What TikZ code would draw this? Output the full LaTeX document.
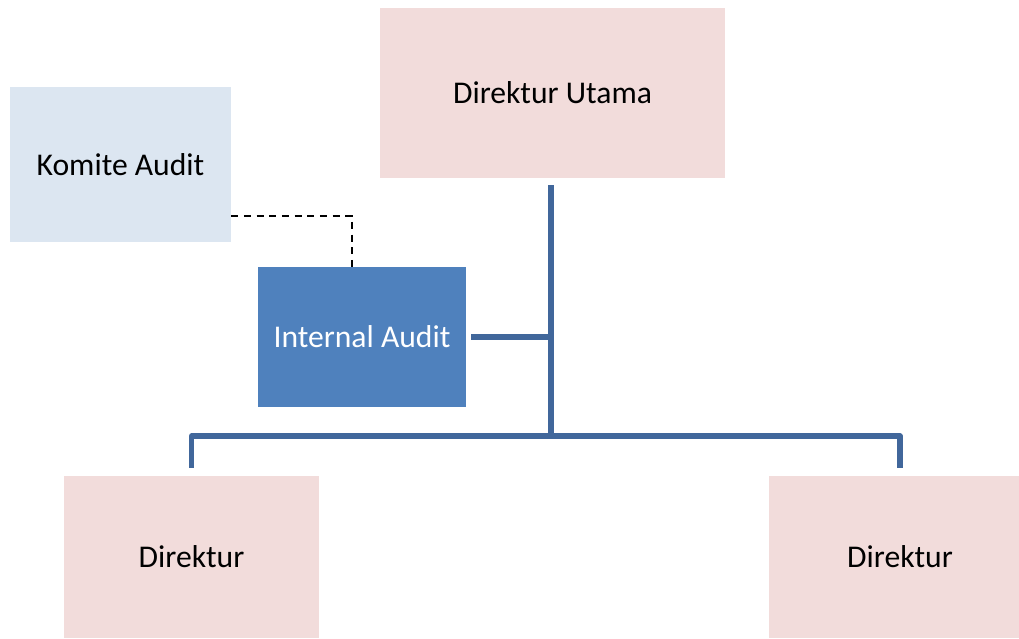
\documentclass[tikz,border=0pt]{standalone}
\usepackage{fontspec}
\setmainfont{Carlito}
\definecolor{pinkbox}{HTML}{F2DCDB}
\definecolor{komite}{HTML}{DCE6F1}
\definecolor{internal}{HTML}{4F81BD}
\definecolor{orgblue}{HTML}{41679B}

\begin{document}
\begin{tikzpicture}[x=0.025cm, y=-0.025cm,
    box/.style={inner sep=0pt, font=\fontsize{22.5}{27}\selectfont},
    orgline/.style={draw=orgblue, line width=3.6pt, line join=round},
    dashline/.style={draw=black, line width=1.4pt, dash pattern=on 5pt off 4pt}]
    \useasboundingbox (0,0) rectangle (1019,638);
    \node[box, fill=pinkbox, minimum width=8.625cm, minimum height=4.25cm] (du) at (552.5,93) {Direktur Utama};
    \node[box, fill=komite, minimum width=5.525cm, minimum height=3.875cm] (ka) at (120.5,164.5) {Komite Audit};
    \node[box, fill=internal, text=white, minimum width=5.2cm, minimum height=3.5cm] (ia) at (362,337) {Internal Audit};
    \node[box, fill=pinkbox, minimum width=6.375cm, minimum height=4.05cm] (dl) at (191.5,557) {Direktur};
    \node[box, fill=pinkbox, minimum width=6.55cm, minimum height=4.05cm] (dr) at (900,557) {Direktur};
    \coordinate (top) at (551,185);
    \coordinate (mid) at (551,337);
    \coordinate (bot) at (551,436);
    % lines
    \draw[orgline] (top) -- (bot);
    \draw[orgline] ([xshift=0.125cm]ia.east) -- (mid);
    \draw[orgline] ([yshift=0.2cm]dl.north) |- (bot) -| ([yshift=0.2cm]dr.north);
    \draw[dashline] ([yshift=-1.2875cm]ka.east) -| ([xshift=-0.25cm]ia.north);
\end{tikzpicture}
\end{document}
